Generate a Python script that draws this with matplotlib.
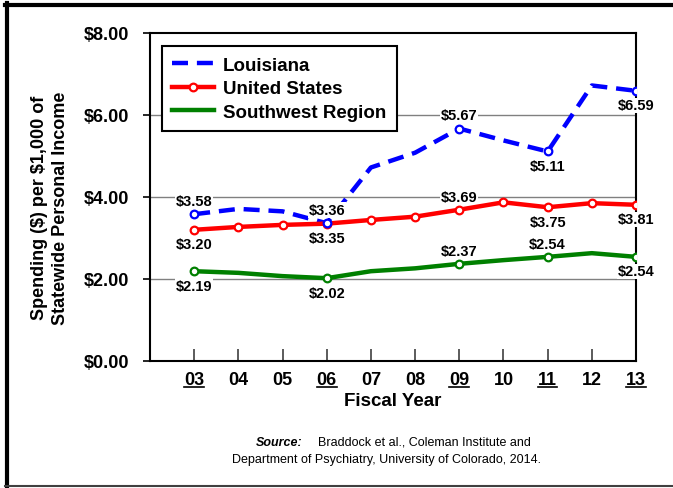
import matplotlib
matplotlib.use("Agg")
import matplotlib.pyplot as plt
from matplotlib.lines import Line2D

plt.rcParams['font.family'] = ['Liberation Sans', 'DejaVu Sans']

years = [3, 4, 5, 6, 7, 8, 9, 10, 11, 12, 13]
year_labels = ['03', '04', '05', '06', '07', '08', '09', '10', '11', '12', '13']
underlined = ['03', '06', '09', '11', '13']

louisiana = [3.58, 3.71, 3.65, 3.36, 4.72, 5.08, 5.67, 5.38, 5.11, 6.72, 6.59]
united_states = [3.20, 3.27, 3.32, 3.35, 3.44, 3.52, 3.69, 3.87, 3.75, 3.85, 3.81]
southwest = [2.19, 2.15, 2.07, 2.02, 2.19, 2.26, 2.37, 2.46, 2.54, 2.63, 2.54]

# which points carry a marker / value label, and where the label goes
labelled = [3, 6, 9, 11, 13]
la_pos = ['above', 'above', 'above', 'below', 'below']
us_pos = ['below', 'below', 'above', 'below', 'below']
sw_pos = ['below', 'below', 'above', 'above', 'below']

W, H = 673, 489
fig = plt.figure(figsize=(W / 100, H / 100), dpi=100)
ax = fig.add_axes([150 / W, 1 - 362 / H, (636 - 150) / W, (362 - 34) / H])

ax.set_xlim(2, 13)
ax.set_ylim(0, 8)

for y in [2, 4, 6]:
    ax.axhline(y, color='#808080', lw=1, zorder=1)

idx = [years.index(v) for v in labelled]
dash = (0, (3.6, 2.0))

ax.plot(years, louisiana, color='#0000FF', lw=3.2, ls=dash, zorder=3,
        dash_capstyle='butt')
ax.plot([years[i] for i in idx], [louisiana[i] for i in idx], ls='none', marker='o',
        ms=5.5, mfc='white', mec='#0000FF', mew=1.6, zorder=4)

ax.plot(years, united_states, color='#FF0000', lw=3.2, marker='o', ms=5.5,
        mfc='white', mec='#FF0000', mew=1.6, zorder=3)

ax.plot(years, southwest, color='#008000', lw=3.2, zorder=3)
ax.plot([years[i] for i in idx], [southwest[i] for i in idx], ls='none', marker='o',
        ms=5.5, mfc='white', mec='#008000', mew=1.6, zorder=4)

for series, pos in [(louisiana, la_pos), (united_states, us_pos), (southwest, sw_pos)]:
    for i, p in zip(idx, pos):
        dy = 9.5 if p == 'above' else -10.5
        ax.annotate('${:.2f}'.format(series[i]), (years[i], series[i]),
                    xytext=(0, dy), textcoords='offset points', ha='center', va='center',
                    fontsize=10.5, fontweight='bold', zorder=5,
                    bbox=dict(boxstyle='square,pad=0.05', fc='white', ec='none'))

ax.set_xticks(years)
ax.set_xticklabels(year_labels, fontsize=13, fontweight='bold')
ax.tick_params(axis='x', direction='in', length=9, width=1.2, pad=7, color='#404040')
ax.set_yticks([0, 2, 4, 6, 8])
ax.set_yticklabels(['$0.00', '$2.00', '$4.00', '$6.00', '$8.00'], fontsize=13, fontweight='bold')
ax.tick_params(axis='y', direction='out', length=5, width=1.2, pad=10)
for s in ax.spines.values():
    s.set_linewidth(1.5)

ax.set_xlabel('Fiscal Year', fontsize=13.5, fontweight='bold', labelpad=3)
fig.text(50 / W, 1 - 208 / H, 'Spending (\\$) per \\$1,000 of\nStatewide Personal Income',
         rotation=90, ha='center', va='center', fontsize=13, fontweight='bold',
         linespacing=1.3)

handles = [Line2D([], [], color='#0000FF', lw=3.2, ls=dash),
           Line2D([], [], color='#FF0000', lw=3.2, marker='o', ms=5.5, mfc='white',
                  mec='#FF0000', mew=1.6),
           Line2D([], [], color='#008000', lw=3.2)]
leg = ax.legend(handles, ['Louisiana', 'United States', 'Southwest Region'],
                loc='upper left', bbox_to_anchor=(0.025, 0.96), borderaxespad=0,
                fancybox=False, edgecolor='black', framealpha=1, handlelength=2.2,
                prop={'weight': 'bold', 'size': 13.5}, labelspacing=0.35,
                borderpad=0.55, handletextpad=0.5)
leg.get_frame().set_linewidth(1.5)
leg.set_zorder(6)

fig.text(302 / W, 1 - 443 / H, 'Source:', ha='right', va='center', fontsize=9,
         fontweight='bold', fontstyle='italic')
fig.text(318 / W, 1 - 443 / H, 'Braddock et al., Coleman Institute and', ha='left',
         va='center', fontsize=9)
fig.text(386 / W, 1 - 460 / H, 'Department of Psychiatry, University of Colorado, 2014.',
         ha='center', va='center', fontsize=9)

# outer frame
fig.add_artist(Line2D([6.5 / W, 6.5 / W], [1 - 4 / H, 1 - 488 / H], color='black', lw=3,
                      transform=fig.transFigure))
fig.add_artist(Line2D([5 / W, 1.0], [1 - 5.5 / H, 1 - 5.5 / H], color='black', lw=3,
                      transform=fig.transFigure))
fig.add_artist(Line2D([5 / W, 1.0], [1 - 487 / H, 1 - 487 / H], color='#404040', lw=1.5,
                      transform=fig.transFigure))

# underline selected year labels
fig.canvas.draw()
inv = fig.transFigure.inverted()
for lab in ax.get_xticklabels():
    if lab.get_text() in underlined:
        bb = lab.get_window_extent()
        (x0, y0), (x1, _) = inv.transform([(bb.x0, bb.y0 + 1), (bb.x1, bb.y0)])
        fig.add_artist(Line2D([x0, x1], [y0, y0], color='black', lw=1.2,
                              transform=fig.transFigure))

fig.savefig('out.png', dpi=100)
